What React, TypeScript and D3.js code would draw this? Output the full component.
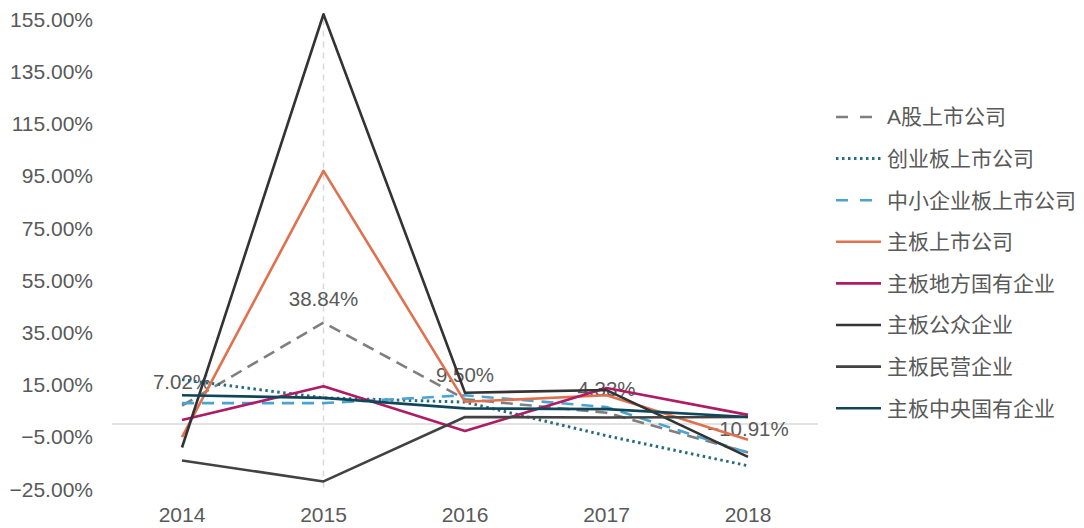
import React from 'react';
import * as d3 from 'd3';

const years = ['2014', '2015', '2016', '2017', '2018'];
const yTicks = [-25, -5, 15, 35, 55, 75, 95, 115, 135, 155];

const aShares = [7.02, 38.84, 9.5, 4.33, -10.91];
const chiNext = [17.0, 10.0, 8.4, -4.5, -16.0];
const sme = [8.0, 8.0, 11.0, 6.5, -11.0];
const mainBoard = [-5.0, 97.0, 8.5, 11.0, -6.0];
const localSOE = [1.5, 14.5, -2.7, 13.8, 3.5];
const publicEnt = [-9.0, 157.0, 12.0, 13.0, -12.6];
const privateEnt = [-14.0, -22.0, 2.7, 2.5, 2.7];
const centralSOE = [11.0, 10.0, 6.0, 5.7, 2.7];

const seriesNames = [
  'A股上市公司',
  '创业板上市公司',
  '中小企业板上市公司',
  '主板上市公司',
  '主板地方国有企业',
  '主板公众企业',
  '主板民营企业',
  '主板中央国有企业',
];
const seriesValues = [aShares, chiNext, sme, mainBoard, localSOE, publicEnt, privateEnt, centralSOE];
const seriesColors = ['#7f7f7f', '#286c82', '#4aa3d0', '#e0704e', '#ad1c64', '#333333', '#424242', '#10465a'];
const seriesDash = ['12,7', '2.5,3.5', '12,8', null, null, null, null, null];
const legendDash = ['12,12', '2.5,3.5', '12,12', null, null, null, null, null];

const W = 1084;
const H = 528;
const FONT = '"Liberation Sans", Arial, "Noto Sans CJK SC", sans-serif';

export default function App() {
  const x = d3.scalePoint<string>().domain(years).range([182, 748]);
  const y = d3.scaleLinear().domain([-25, 155]).range([489.25, 19.45]);
  const line = d3
    .line<number>()
    .x((_, i) => x(years[i]) as number)
    .y((d) => y(d));
  const fmt = d3.format('.2f');

  const legendY0 = 117;
  const legendStep = 41.6;

  return (
    <svg
      width={W}
      height={H}
      style={{ position: 'absolute', left: 0, top: 0, background: '#fff' }}
      fontFamily={FONT}
    >
      {/* y tick labels */}
      {yTicks.map((t) => (
        <text key={t} x={93} y={y(t)} dy="0.35em" textAnchor="end" fontSize={21} fill="#595959">
          {fmt(t) + '%'}
        </text>
      ))}
      {/* x tick labels */}
      {years.map((yr) => (
        <text key={yr} x={x(yr)} y={515} dy="0.35em" textAnchor="middle" fontSize={21} fill="#595959">
          {yr}
        </text>
      ))}
      {/* vertical dashed line at 2015 */}
      <line
        x1={x('2015')}
        x2={x('2015')}
        y1={y(155)}
        y2={y(-25)}
        stroke="#d9d9d9"
        strokeWidth={1.5}
        strokeDasharray="6,5"
      />
      {/* zero line */}
      <line x1={112} x2={818} y1={y(0)} y2={y(0)} stroke="#d9d9d9" strokeWidth={1.5} />

      {/* data labels for A股 */}
      {aShares.map((v, i) => (
        <text
          key={i}
          x={x(years[i])}
          y={y(v) - 24}
          dy="0.35em"
          textAnchor="middle"
          fontSize={20.5}
          fill="#595959"
        >
          {fmt(v) + '%'}
        </text>
      ))}

      {/* series lines */}
      {seriesValues.map((vals, si) => (
        <path
          key={si}
          d={line(vals) || ''}
          fill="none"
          stroke={seriesColors[si]}
          strokeWidth={si === 1 ? 3 : 2.6}
          strokeDasharray={seriesDash[si] || undefined}
          strokeLinejoin="round"
        />
      ))}

      {/* legend */}
      {seriesNames.map((name, i) => {
        const ly = legendY0 + i * legendStep;
        return (
          <g key={name}>
            <line
              x1={836}
              x2={881}
              y1={ly}
              y2={ly}
              stroke={seriesColors[i]}
              strokeWidth={i === 1 ? 3 : 2.6}
              strokeDasharray={legendDash[i] || undefined}
            />
            <text x={887} y={ly} dy="0.35em" fontSize={21} fill="#595959">
              {name}
            </text>
          </g>
        );
      })}
    </svg>
  );
}
